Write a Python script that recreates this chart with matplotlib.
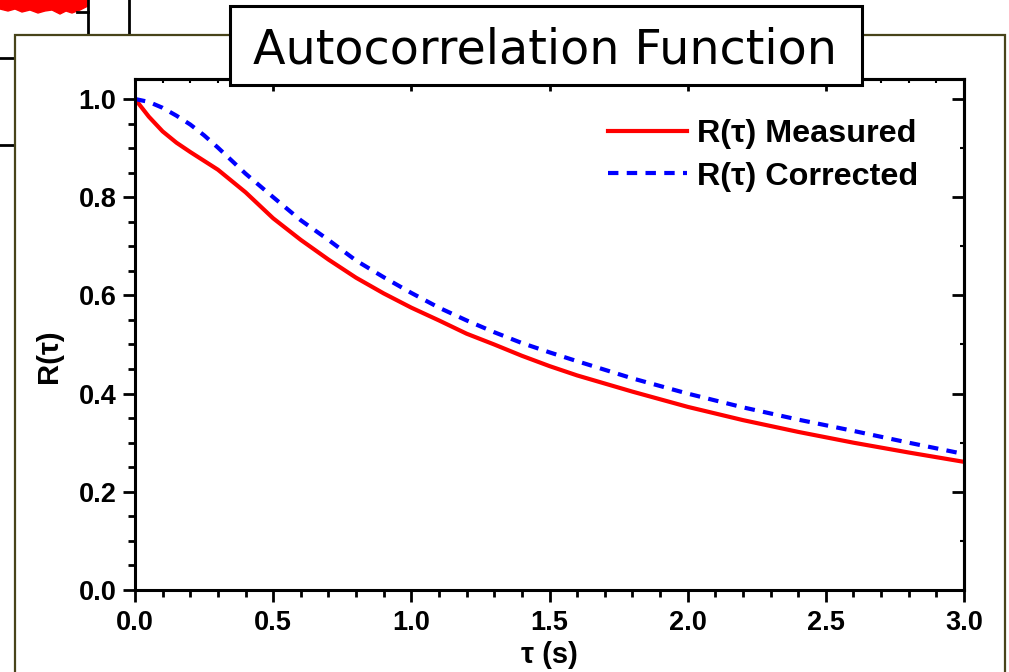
import matplotlib.pyplot as plt
from matplotlib.lines import Line2D
from matplotlib.patches import Rectangle, Polygon
from matplotlib.ticker import MultipleLocator

# ---------------- data ----------------
tau = [0, 0.05, 0.1, 0.15, 0.2, 0.25, 0.3, 0.4, 0.5, 0.6, 0.7, 0.8, 0.9, 1.0,
       1.1, 1.2, 1.3, 1.4, 1.5, 1.6, 1.8, 2.0, 2.2, 2.4, 2.6, 2.8, 3.0]
r_measured = [1.0, 0.964, 0.934, 0.911, 0.892, 0.874, 0.856, 0.810, 0.757, 0.713,
              0.673, 0.636, 0.604, 0.575, 0.549, 0.522, 0.500, 0.477, 0.456, 0.437,
              0.404, 0.373, 0.346, 0.322, 0.300, 0.280, 0.261]
r_corrected = [1.0, 0.994, 0.982, 0.966, 0.948, 0.926, 0.901, 0.848, 0.800, 0.753,
               0.713, 0.671, 0.637, 0.605, 0.575, 0.549, 0.525, 0.503, 0.484, 0.466,
               0.431, 0.400, 0.372, 0.347, 0.324, 0.300, 0.277]

x_ticks = [0.0, 0.5, 1.0, 1.5, 2.0, 2.5, 3.0]
y_ticks = [0.0, 0.2, 0.4, 0.6, 0.8, 1.0]

# jagged edge of the red trace peeking out behind the panel (top-left)
bg_x = [0, 8, 15, 22, 30, 38, 45, 52, 60, 66, 72, 80, 88]
bg_y = [9, 11, 9, 12, 10, 13, 11, 10, 14, 11, 13, 10, 6]

W, H = 1009, 672
fig = plt.figure(figsize=(W / 100, H / 100), dpi=100)
fig.patch.set_facecolor('white')


def px(x, y):
    return x / W, 1 - y / H


# ---------------- stuff behind the panel ----------------
poly = [px(0, 0)] + [px(a, b) for a, b in zip(bg_x, bg_y)] + [px(88, 0)]
fig.add_artist(Polygon(poly, closed=True, transform=fig.transFigure,
                       facecolor='red', edgecolor='red', zorder=-3))
for (x0, y0), (x1, y1) in [((88, 0), (88, 40)), ((129, 0), (129, 40)),
                           ((77, 12), (88, 12)), ((0, 58), (20, 58)),
                           ((0, 145), (20, 145))]:
    fig.add_artist(Line2D([x0 / W, x1 / W], [1 - y0 / H, 1 - y1 / H],
                          transform=fig.transFigure, color='black', lw=2, zorder=-3))

# olive panel
fig.add_artist(Rectangle(px(15, 700), 990 / W, 665 / H, transform=fig.transFigure,
                         facecolor='white', edgecolor='#48441a', lw=1.6, zorder=-2))

# ---------------- axes ----------------
ax = fig.add_axes([135 / W, (H - 590) / H, 829 / W, 511 / H])
ax.plot(tau, r_measured, color='#ff0000', lw=3.0, label='R(τ) Measured')
ax.plot(tau, r_corrected, color='#0000ff', lw=3.0, dashes=(2.5, 2.0),
        label='R(τ) Corrected')

ax.set_xlim(0, 3.0)
ax.set_ylim(0, 1.0407)
ax.set_xticks(x_ticks)
ax.set_yticks(y_ticks)
ax.xaxis.set_minor_locator(MultipleLocator(0.1))
ax.yaxis.set_minor_locator(MultipleLocator(0.05))
ax.set_xticklabels(['%.1f' % v for v in x_ticks])
ax.set_yticklabels(['%.1f' % v for v in y_ticks])

font = 'Liberation Sans'
for lab in ax.get_xticklabels() + ax.get_yticklabels():
    lab.set_fontfamily(font)
    lab.set_fontweight('bold')
    lab.set_fontsize(19.5)

ax.tick_params(which='major', direction='out', length=8.5, width=2, pad=5)
ax.tick_params(which='minor', direction='out', length=5, width=2)
ax.tick_params(axis='x', which='major', pad=6)
for s in ax.spines.values():
    s.set_linewidth(2.2)

# top and right: inward ticks, no labels
top = ax.secondary_xaxis('top')
top.set_xticks(x_ticks)
top.xaxis.set_minor_locator(MultipleLocator(0.1))
top.tick_params(which='major', direction='in', length=8.5, width=2, labeltop=False)
top.tick_params(which='minor', direction='in', length=3, width=1.5)
top.spines['top'].set_linewidth(2.2)
right = ax.secondary_yaxis('right')
right.set_yticks(y_ticks)
right.yaxis.set_minor_locator(MultipleLocator(0.1))
right.tick_params(which='major', direction='in', length=8.5, width=2, labelright=False)
right.tick_params(which='minor', direction='in', length=3, width=1.5)
right.spines['right'].set_linewidth(2.2)

ax.set_xlabel('τ (s)', fontfamily=font, fontweight='bold', fontsize=21)
ax.xaxis.set_label_coords(0.5, -0.10)
ax.set_ylabel('R(τ)', fontfamily=font, fontweight='bold', fontsize=21)
ax.yaxis.set_label_coords(-0.087, 0.458)

leg = ax.legend(loc='upper left', bbox_to_anchor=((608 - 135) / 829, (590 - 119) / 511),
                frameon=False, borderpad=0, borderaxespad=0, handlelength=2.45,
                handletextpad=0.3, labelspacing=0.39,
                prop={'family': font, 'weight': 'bold', 'size': 23.3})

# ---------------- title box ----------------
fig.add_artist(Rectangle(px(230, 85), 632 / W, 79 / H, transform=fig.transFigure,
                         facecolor='white', edgecolor='black', lw=2.2, zorder=5))
fig.text(545 / W, 1 - 63 / H, 'Autocorrelation Function', ha='center', va='baseline',
         fontsize=34.3, fontfamily='DejaVu Sans', zorder=6)

plt.savefig('out.png', dpi=100)
plt.close()
